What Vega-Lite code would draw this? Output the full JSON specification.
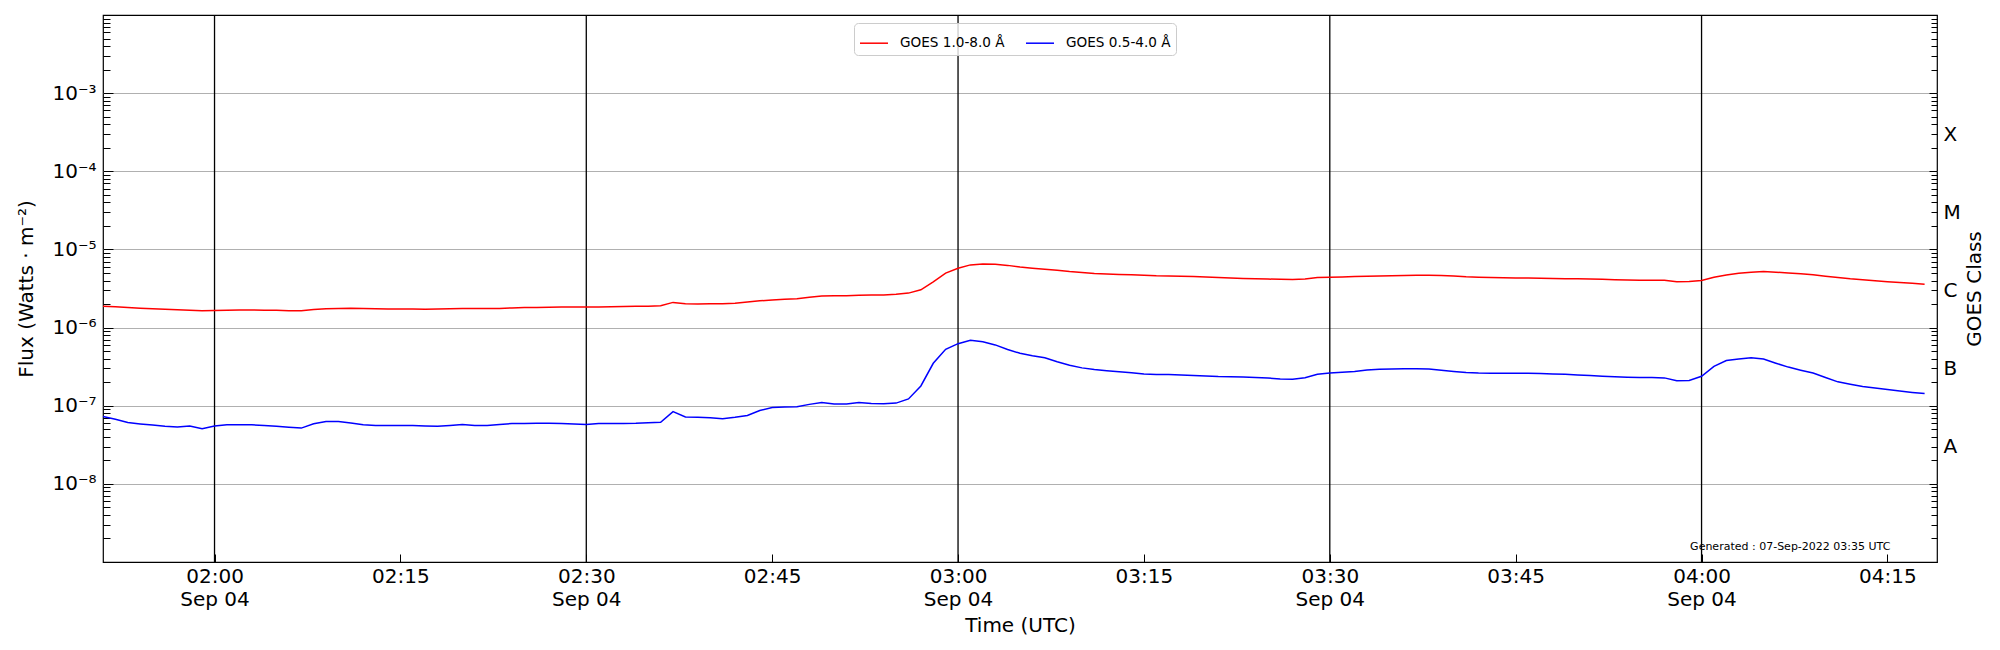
{
  "$schema": "https://vega.github.io/schema/vega-lite/v6.json",
  "description": "GOES X-ray flux, 04 Sep 2022, two channels on a log scale with GOES class axis",
  "width": 1834,
  "height": 547,
  "autosize": "none",
  "padding": {"left": 103, "top": 15, "right": 63, "bottom": 88},
  "background": "white",
  "datasets": {
    "xrs": [
      {"t": "2022-09-04 01:51", "long": 1.88e-6, "short": 7.26e-8},
      {"t": "2022-09-04 01:52", "long": 1.85e-6, "short": 6.70e-8},
      {"t": "2022-09-04 01:53", "long": 1.81e-6, "short": 6.10e-8},
      {"t": "2022-09-04 01:54", "long": 1.77e-6, "short": 5.85e-8},
      {"t": "2022-09-04 01:55", "long": 1.74e-6, "short": 5.65e-8},
      {"t": "2022-09-04 01:56", "long": 1.71e-6, "short": 5.45e-8},
      {"t": "2022-09-04 01:57", "long": 1.69e-6, "short": 5.35e-8},
      {"t": "2022-09-04 01:58", "long": 1.66e-6, "short": 5.50e-8},
      {"t": "2022-09-04 01:59", "long": 1.64e-6, "short": 5.06e-8},
      {"t": "2022-09-04 02:00", "long": 1.65e-6, "short": 5.50e-8},
      {"t": "2022-09-04 02:01", "long": 1.67e-6, "short": 5.69e-8},
      {"t": "2022-09-04 02:02", "long": 1.68e-6, "short": 5.69e-8},
      {"t": "2022-09-04 02:03", "long": 1.68e-6, "short": 5.69e-8},
      {"t": "2022-09-04 02:04", "long": 1.67e-6, "short": 5.60e-8},
      {"t": "2022-09-04 02:05", "long": 1.66e-6, "short": 5.45e-8},
      {"t": "2022-09-04 02:06", "long": 1.64e-6, "short": 5.30e-8},
      {"t": "2022-09-04 02:07", "long": 1.64e-6, "short": 5.17e-8},
      {"t": "2022-09-04 02:08", "long": 1.70e-6, "short": 5.86e-8},
      {"t": "2022-09-04 02:09", "long": 1.74e-6, "short": 6.27e-8},
      {"t": "2022-09-04 02:10", "long": 1.76e-6, "short": 6.30e-8},
      {"t": "2022-09-04 02:11", "long": 1.77e-6, "short": 6.00e-8},
      {"t": "2022-09-04 02:12", "long": 1.76e-6, "short": 5.70e-8},
      {"t": "2022-09-04 02:13", "long": 1.74e-6, "short": 5.57e-8},
      {"t": "2022-09-04 02:14", "long": 1.73e-6, "short": 5.57e-8},
      {"t": "2022-09-04 02:15", "long": 1.73e-6, "short": 5.57e-8},
      {"t": "2022-09-04 02:16", "long": 1.73e-6, "short": 5.57e-8},
      {"t": "2022-09-04 02:17", "long": 1.72e-6, "short": 5.50e-8},
      {"t": "2022-09-04 02:18", "long": 1.73e-6, "short": 5.45e-8},
      {"t": "2022-09-04 02:19", "long": 1.74e-6, "short": 5.60e-8},
      {"t": "2022-09-04 02:20", "long": 1.75e-6, "short": 5.74e-8},
      {"t": "2022-09-04 02:21", "long": 1.75e-6, "short": 5.60e-8},
      {"t": "2022-09-04 02:22", "long": 1.75e-6, "short": 5.60e-8},
      {"t": "2022-09-04 02:23", "long": 1.76e-6, "short": 5.75e-8},
      {"t": "2022-09-04 02:24", "long": 1.78e-6, "short": 5.91e-8},
      {"t": "2022-09-04 02:25", "long": 1.80e-6, "short": 5.93e-8},
      {"t": "2022-09-04 02:26", "long": 1.81e-6, "short": 5.95e-8},
      {"t": "2022-09-04 02:27", "long": 1.82e-6, "short": 5.95e-8},
      {"t": "2022-09-04 02:28", "long": 1.83e-6, "short": 5.93e-8},
      {"t": "2022-09-04 02:29", "long": 1.83e-6, "short": 5.85e-8},
      {"t": "2022-09-04 02:30", "long": 1.83e-6, "short": 5.74e-8},
      {"t": "2022-09-04 02:31", "long": 1.84e-6, "short": 5.91e-8},
      {"t": "2022-09-04 02:32", "long": 1.85e-6, "short": 5.92e-8},
      {"t": "2022-09-04 02:33", "long": 1.86e-6, "short": 5.93e-8},
      {"t": "2022-09-04 02:34", "long": 1.87e-6, "short": 5.95e-8},
      {"t": "2022-09-04 02:35", "long": 1.88e-6, "short": 6.05e-8},
      {"t": "2022-09-04 02:36", "long": 1.90e-6, "short": 6.15e-8},
      {"t": "2022-09-04 02:37", "long": 2.10e-6, "short": 8.41e-8},
      {"t": "2022-09-04 02:38", "long": 2.02e-6, "short": 7.19e-8},
      {"t": "2022-09-04 02:39", "long": 2.01e-6, "short": 7.10e-8},
      {"t": "2022-09-04 02:40", "long": 2.02e-6, "short": 7.00e-8},
      {"t": "2022-09-04 02:41", "long": 2.02e-6, "short": 6.80e-8},
      {"t": "2022-09-04 02:42", "long": 2.05e-6, "short": 7.10e-8},
      {"t": "2022-09-04 02:43", "long": 2.12e-6, "short": 7.50e-8},
      {"t": "2022-09-04 02:44", "long": 2.20e-6, "short": 8.67e-8},
      {"t": "2022-09-04 02:45", "long": 2.26e-6, "short": 9.46e-8},
      {"t": "2022-09-04 02:46", "long": 2.31e-6, "short": 9.60e-8},
      {"t": "2022-09-04 02:47", "long": 2.34e-6, "short": 9.70e-8},
      {"t": "2022-09-04 02:48", "long": 2.44e-6, "short": 1.04e-7},
      {"t": "2022-09-04 02:49", "long": 2.53e-6, "short": 1.10e-7},
      {"t": "2022-09-04 02:50", "long": 2.55e-6, "short": 1.05e-7},
      {"t": "2022-09-04 02:51", "long": 2.55e-6, "short": 1.05e-7},
      {"t": "2022-09-04 02:52", "long": 2.60e-6, "short": 1.10e-7},
      {"t": "2022-09-04 02:53", "long": 2.61e-6, "short": 1.07e-7},
      {"t": "2022-09-04 02:54", "long": 2.62e-6, "short": 1.06e-7},
      {"t": "2022-09-04 02:55", "long": 2.66e-6, "short": 1.08e-7},
      {"t": "2022-09-04 02:56", "long": 2.76e-6, "short": 1.22e-7},
      {"t": "2022-09-04 02:57", "long": 3.04e-6, "short": 1.79e-7},
      {"t": "2022-09-04 02:58", "long": 3.85e-6, "short": 3.49e-7},
      {"t": "2022-09-04 02:59", "long": 4.97e-6, "short": 5.27e-7},
      {"t": "2022-09-04 03:00", "long": 5.75e-6, "short": 6.22e-7},
      {"t": "2022-09-04 03:01", "long": 6.34e-6, "short": 6.87e-7},
      {"t": "2022-09-04 03:02", "long": 6.53e-6, "short": 6.60e-7},
      {"t": "2022-09-04 03:03", "long": 6.45e-6, "short": 6.00e-7},
      {"t": "2022-09-04 03:04", "long": 6.25e-6, "short": 5.25e-7},
      {"t": "2022-09-04 03:05", "long": 5.95e-6, "short": 4.68e-7},
      {"t": "2022-09-04 03:06", "long": 5.75e-6, "short": 4.35e-7},
      {"t": "2022-09-04 03:07", "long": 5.58e-6, "short": 4.10e-7},
      {"t": "2022-09-04 03:08", "long": 5.40e-6, "short": 3.65e-7},
      {"t": "2022-09-04 03:09", "long": 5.20e-6, "short": 3.30e-7},
      {"t": "2022-09-04 03:10", "long": 5.05e-6, "short": 3.05e-7},
      {"t": "2022-09-04 03:11", "long": 4.92e-6, "short": 2.90e-7},
      {"t": "2022-09-04 03:12", "long": 4.84e-6, "short": 2.80e-7},
      {"t": "2022-09-04 03:13", "long": 4.78e-6, "short": 2.72e-7},
      {"t": "2022-09-04 03:14", "long": 4.74e-6, "short": 2.65e-7},
      {"t": "2022-09-04 03:15", "long": 4.66e-6, "short": 2.55e-7},
      {"t": "2022-09-04 03:16", "long": 4.59e-6, "short": 2.50e-7},
      {"t": "2022-09-04 03:17", "long": 4.56e-6, "short": 2.50e-7},
      {"t": "2022-09-04 03:18", "long": 4.53e-6, "short": 2.48e-7},
      {"t": "2022-09-04 03:19", "long": 4.50e-6, "short": 2.44e-7},
      {"t": "2022-09-04 03:20", "long": 4.45e-6, "short": 2.40e-7},
      {"t": "2022-09-04 03:21", "long": 4.38e-6, "short": 2.36e-7},
      {"t": "2022-09-04 03:22", "long": 4.30e-6, "short": 2.35e-7},
      {"t": "2022-09-04 03:23", "long": 4.25e-6, "short": 2.33e-7},
      {"t": "2022-09-04 03:24", "long": 4.22e-6, "short": 2.30e-7},
      {"t": "2022-09-04 03:25", "long": 4.18e-6, "short": 2.26e-7},
      {"t": "2022-09-04 03:26", "long": 4.14e-6, "short": 2.20e-7},
      {"t": "2022-09-04 03:27", "long": 4.12e-6, "short": 2.18e-7},
      {"t": "2022-09-04 03:28", "long": 4.18e-6, "short": 2.28e-7},
      {"t": "2022-09-04 03:29", "long": 4.36e-6, "short": 2.52e-7},
      {"t": "2022-09-04 03:30", "long": 4.40e-6, "short": 2.62e-7},
      {"t": "2022-09-04 03:31", "long": 4.45e-6, "short": 2.68e-7},
      {"t": "2022-09-04 03:32", "long": 4.50e-6, "short": 2.75e-7},
      {"t": "2022-09-04 03:33", "long": 4.54e-6, "short": 2.86e-7},
      {"t": "2022-09-04 03:34", "long": 4.58e-6, "short": 2.92e-7},
      {"t": "2022-09-04 03:35", "long": 4.62e-6, "short": 2.95e-7},
      {"t": "2022-09-04 03:36", "long": 4.65e-6, "short": 2.97e-7},
      {"t": "2022-09-04 03:37", "long": 4.68e-6, "short": 2.98e-7},
      {"t": "2022-09-04 03:38", "long": 4.68e-6, "short": 2.94e-7},
      {"t": "2022-09-04 03:39", "long": 4.65e-6, "short": 2.85e-7},
      {"t": "2022-09-04 03:40", "long": 4.58e-6, "short": 2.75e-7},
      {"t": "2022-09-04 03:41", "long": 4.48e-6, "short": 2.67e-7},
      {"t": "2022-09-04 03:42", "long": 4.42e-6, "short": 2.62e-7},
      {"t": "2022-09-04 03:43", "long": 4.38e-6, "short": 2.60e-7},
      {"t": "2022-09-04 03:44", "long": 4.35e-6, "short": 2.60e-7},
      {"t": "2022-09-04 03:45", "long": 4.32e-6, "short": 2.60e-7},
      {"t": "2022-09-04 03:46", "long": 4.30e-6, "short": 2.60e-7},
      {"t": "2022-09-04 03:47", "long": 4.27e-6, "short": 2.58e-7},
      {"t": "2022-09-04 03:48", "long": 4.24e-6, "short": 2.55e-7},
      {"t": "2022-09-04 03:49", "long": 4.22e-6, "short": 2.53e-7},
      {"t": "2022-09-04 03:50", "long": 4.20e-6, "short": 2.48e-7},
      {"t": "2022-09-04 03:51", "long": 4.18e-6, "short": 2.43e-7},
      {"t": "2022-09-04 03:52", "long": 4.14e-6, "short": 2.39e-7},
      {"t": "2022-09-04 03:53", "long": 4.10e-6, "short": 2.35e-7},
      {"t": "2022-09-04 03:54", "long": 4.05e-6, "short": 2.32e-7},
      {"t": "2022-09-04 03:55", "long": 4.02e-6, "short": 2.30e-7},
      {"t": "2022-09-04 03:56", "long": 4.03e-6, "short": 2.30e-7},
      {"t": "2022-09-04 03:57", "long": 4.04e-6, "short": 2.27e-7},
      {"t": "2022-09-04 03:58", "long": 3.86e-6, "short": 2.09e-7},
      {"t": "2022-09-04 03:59", "long": 3.90e-6, "short": 2.10e-7},
      {"t": "2022-09-04 04:00", "long": 4.00e-6, "short": 2.38e-7},
      {"t": "2022-09-04 04:01", "long": 4.40e-6, "short": 3.19e-7},
      {"t": "2022-09-04 04:02", "long": 4.72e-6, "short": 3.78e-7},
      {"t": "2022-09-04 04:03", "long": 4.95e-6, "short": 3.95e-7},
      {"t": "2022-09-04 04:04", "long": 5.12e-6, "short": 4.12e-7},
      {"t": "2022-09-04 04:05", "long": 5.20e-6, "short": 3.95e-7},
      {"t": "2022-09-04 04:06", "long": 5.12e-6, "short": 3.50e-7},
      {"t": "2022-09-04 04:07", "long": 5.00e-6, "short": 3.12e-7},
      {"t": "2022-09-04 04:08", "long": 4.88e-6, "short": 2.85e-7},
      {"t": "2022-09-04 04:09", "long": 4.74e-6, "short": 2.62e-7},
      {"t": "2022-09-04 04:10", "long": 4.55e-6, "short": 2.30e-7},
      {"t": "2022-09-04 04:11", "long": 4.36e-6, "short": 2.02e-7},
      {"t": "2022-09-04 04:12", "long": 4.20e-6, "short": 1.88e-7},
      {"t": "2022-09-04 04:13", "long": 4.08e-6, "short": 1.76e-7},
      {"t": "2022-09-04 04:14", "long": 3.97e-6, "short": 1.68e-7},
      {"t": "2022-09-04 04:15", "long": 3.87e-6, "short": 1.61e-7},
      {"t": "2022-09-04 04:16", "long": 3.77e-6, "short": 1.54e-7},
      {"t": "2022-09-04 04:17", "long": 3.68e-6, "short": 1.48e-7},
      {"t": "2022-09-04 04:18", "long": 3.59e-6, "short": 1.43e-7}
    ],
    "markers": [
      {"t": "2022-09-04 02:00"},
      {"t": "2022-09-04 02:30"},
      {"t": "2022-09-04 03:00"},
      {"t": "2022-09-04 03:30"},
      {"t": "2022-09-04 04:00"}
    ],
    "stamp": [
      {"t": "2022-09-04 04:15:14", "flux": 1.43e-9, "note": "Generated : 07-Sep-2022 03:35 UTC"}
    ]
  },
  "encoding": {
    "x": {
      "field": "t",
      "type": "temporal",
      "title": "Time (UTC)",
      "scale": {
        "type": "utc",
        "domain": [
          {"year": 2022, "month": 9, "date": 4, "hours": 1, "minutes": 51, "utc": true},
          {"year": 2022, "month": 9, "date": 4, "hours": 4, "minutes": 19, "utc": true}
        ]
      },
      "axis": {
        "orient": "bottom",
        "values": [
          {"year": 2022, "month": 9, "date": 4, "hours": 2, "minutes": 0, "utc": true},
          {"year": 2022, "month": 9, "date": 4, "hours": 2, "minutes": 15, "utc": true},
          {"year": 2022, "month": 9, "date": 4, "hours": 2, "minutes": 30, "utc": true},
          {"year": 2022, "month": 9, "date": 4, "hours": 2, "minutes": 45, "utc": true},
          {"year": 2022, "month": 9, "date": 4, "hours": 3, "minutes": 0, "utc": true},
          {"year": 2022, "month": 9, "date": 4, "hours": 3, "minutes": 15, "utc": true},
          {"year": 2022, "month": 9, "date": 4, "hours": 3, "minutes": 30, "utc": true},
          {"year": 2022, "month": 9, "date": 4, "hours": 3, "minutes": 45, "utc": true},
          {"year": 2022, "month": 9, "date": 4, "hours": 4, "minutes": 0, "utc": true},
          {"year": 2022, "month": 9, "date": 4, "hours": 4, "minutes": 15, "utc": true}
        ],
        "labelExpr": "utcminutes(datum.value) % 30 == 0 ? [utcFormat(datum.value, '%H:%M'), utcFormat(datum.value, '%b %d')] : utcFormat(datum.value, '%H:%M')",
        "labelLineHeight": 23,
        "labelOverlap": false,
        "labelFlush": false,
        "grid": false,
        "tickSize": -8,
        "labelPadding": 12,
        "titlePadding": 6
      }
    }
  },
  "layer": [
    {
      "data": {"name": "markers", "format": {"parse": {"t": "utc:'%Y-%m-%d %H:%M'"}}},
      "mark": {"type": "rule", "color": "black", "strokeWidth": 1.3}
    },
    {
      "data": {"name": "xrs", "format": {"parse": {"t": "utc:'%Y-%m-%d %H:%M'"}}},
      "transform": [{"fold": ["long", "short"], "as": ["series", "flux"]}],
      "mark": {"type": "line", "strokeWidth": 1.5, "interpolate": "linear"},
      "encoding": {
        "y": {
          "field": "flux",
          "type": "quantitative",
          "title": "Flux (Watts · m⁻²)",
          "scale": {"type": "log", "domain": [1e-9, 1e-2], "nice": false},
          "axis": {
            "orient": "left",
            "values": [1e-9,2e-9,3e-9,4e-9,5e-9,6e-9,7e-9,8e-9,9e-9,1e-8,2e-8,3e-8,4e-8,5e-8,6e-8,7e-8,8e-8,9e-8,1e-7,2e-7,3e-7,4e-7,5e-7,6e-7,7e-7,8e-7,9e-7,1e-6,2e-6,3e-6,4e-6,5e-6,6e-6,7e-6,8e-6,9e-6,1e-5,2e-5,3e-5,4e-5,5e-5,6e-5,7e-5,8e-5,9e-5,1e-4,2e-4,3e-4,4e-4,5e-4,6e-4,7e-4,8e-4,9e-4,1e-3,2e-3,3e-3,4e-3,5e-3,6e-3,7e-3,8e-3,9e-3,1e-2],
            "labelExpr": "abs(log(datum.value)/LN10 - round(log(datum.value)/LN10)) < 0.001 && datum.value > 5e-9 && datum.value < 5e-3 ? '10⁻' + ['⁰','¹','²','³','⁴','⁵','⁶','⁷','⁸','⁹'][round(-log(datum.value)/LN10)] : ''",
            "labelOverlap": false,
            "labelFlush": false,
            "labelBound": false,
            "grid": true,
            "gridColor": "#b0b0b0",
            "gridWidth": 1,
            "gridOpacity": {"condition": {"test": "abs(log(datum.value)/LN10 - round(log(datum.value)/LN10)) < 0.001 && datum.value > 5e-9 && datum.value < 5e-3", "value": 1}, "value": 0},
            "tickSize": {"condition": {"test": "abs(log(datum.value)/LN10 - round(log(datum.value)/LN10)) < 0.001", "value": -10}, "value": -7},
            "labelPadding": 17,
            "titlePadding": 15
          }
        },
        "color": {
          "field": "series",
          "type": "nominal",
          "scale": {"domain": ["long", "short"], "range": ["#ff0000", "#0000ff"]},
          "legend": {
            "title": null,
            "orient": "none",
            "legendX": 751,
            "legendY": 8,
            "direction": "horizontal",
            "labelExpr": "datum.label == 'long' ? 'GOES 1.0-8.0 Å' : 'GOES 0.5-4.0 Å'",
            "labelFont": "DejaVu Sans",
            "labelFontSize": 13.6,
            "labelColor": "black",
            "labelOffset": 11,
            "symbolType": "stroke",
            "symbolSize": 784,
            "symbolStrokeWidth": 1.5,
            "columnPadding": 18,
            "strokeColor": "#cccccc",
            "fillColor": "rgba(255,255,255,0.8)",
            "cornerRadius": 4,
            "padding": 5
          }
        }
      }
    },
    {
      "data": {"name": "stamp", "format": {"parse": {"t": "utc:'%Y-%m-%d %H:%M:%S'"}}},
      "mark": {"type": "text", "align": "right", "baseline": "alphabetic", "fontSize": 11, "font": "DejaVu Sans", "color": "black"},
      "encoding": {
        "y": {
          "field": "flux",
          "type": "quantitative",
          "title": "GOES Class",
          "scale": {"type": "log", "domain": [1e-9, 1e-2], "nice": false},
          "axis": {
            "orient": "right",
            "values": [1e-9,2e-9,3e-9,4e-9,5e-9,6e-9,7e-9,8e-9,9e-9,1e-8,2e-8,3e-8,4e-8,5e-8,6e-8,7e-8,8e-8,9e-8,1e-7,2e-7,3e-7,4e-7,5e-7,6e-7,7e-7,8e-7,9e-7,1e-6,2e-6,3e-6,4e-6,5e-6,6e-6,7e-6,8e-6,9e-6,1e-5,2e-5,3e-5,4e-5,5e-5,6e-5,7e-5,8e-5,9e-5,1e-4,2e-4,3e-4,4e-4,5e-4,6e-4,7e-4,8e-4,9e-4,1e-3,2e-3,3e-3,4e-3,5e-3,6e-3,7e-3,8e-3,9e-3,1e-2],
            "labelExpr": "abs(datum.value / pow(10, floor(log(datum.value)/LN10 + 0.001)) - 3) < 0.01 && datum.value > 1e-8 && datum.value < 1e-3 ? ['A','B','C','M','X'][floor(log(datum.value)/LN10 + 0.001) + 8] : ''",
            "labelOverlap": false,
            "labelFlush": false,
            "labelBound": false,
            "grid": false,
            "tickSize": {"condition": {"test": "abs(log(datum.value)/LN10 - round(log(datum.value)/LN10)) < 0.001", "value": -8}, "value": -6},
            "labelPadding": 12,
            "titleAngle": 270,
            "titlePadding": 24
          }
        },
        "text": {"field": "note", "type": "nominal"}
      }
    }
  ],
  "resolve": {"axis": {"y": "independent"}},
  "config": {
    "font": "DejaVu Sans",
    "view": {"stroke": "black", "strokeWidth": 1.2},
    "axis": {
      "domain": false,
      "labelFont": "DejaVu Sans",
      "titleFont": "DejaVu Sans",
      "labelFontSize": 20,
      "titleFontSize": 20,
      "titleFontWeight": "normal",
      "labelColor": "black",
      "titleColor": "black",
      "tickColor": "black",
      "tickWidth": 1
    }
  }
}
